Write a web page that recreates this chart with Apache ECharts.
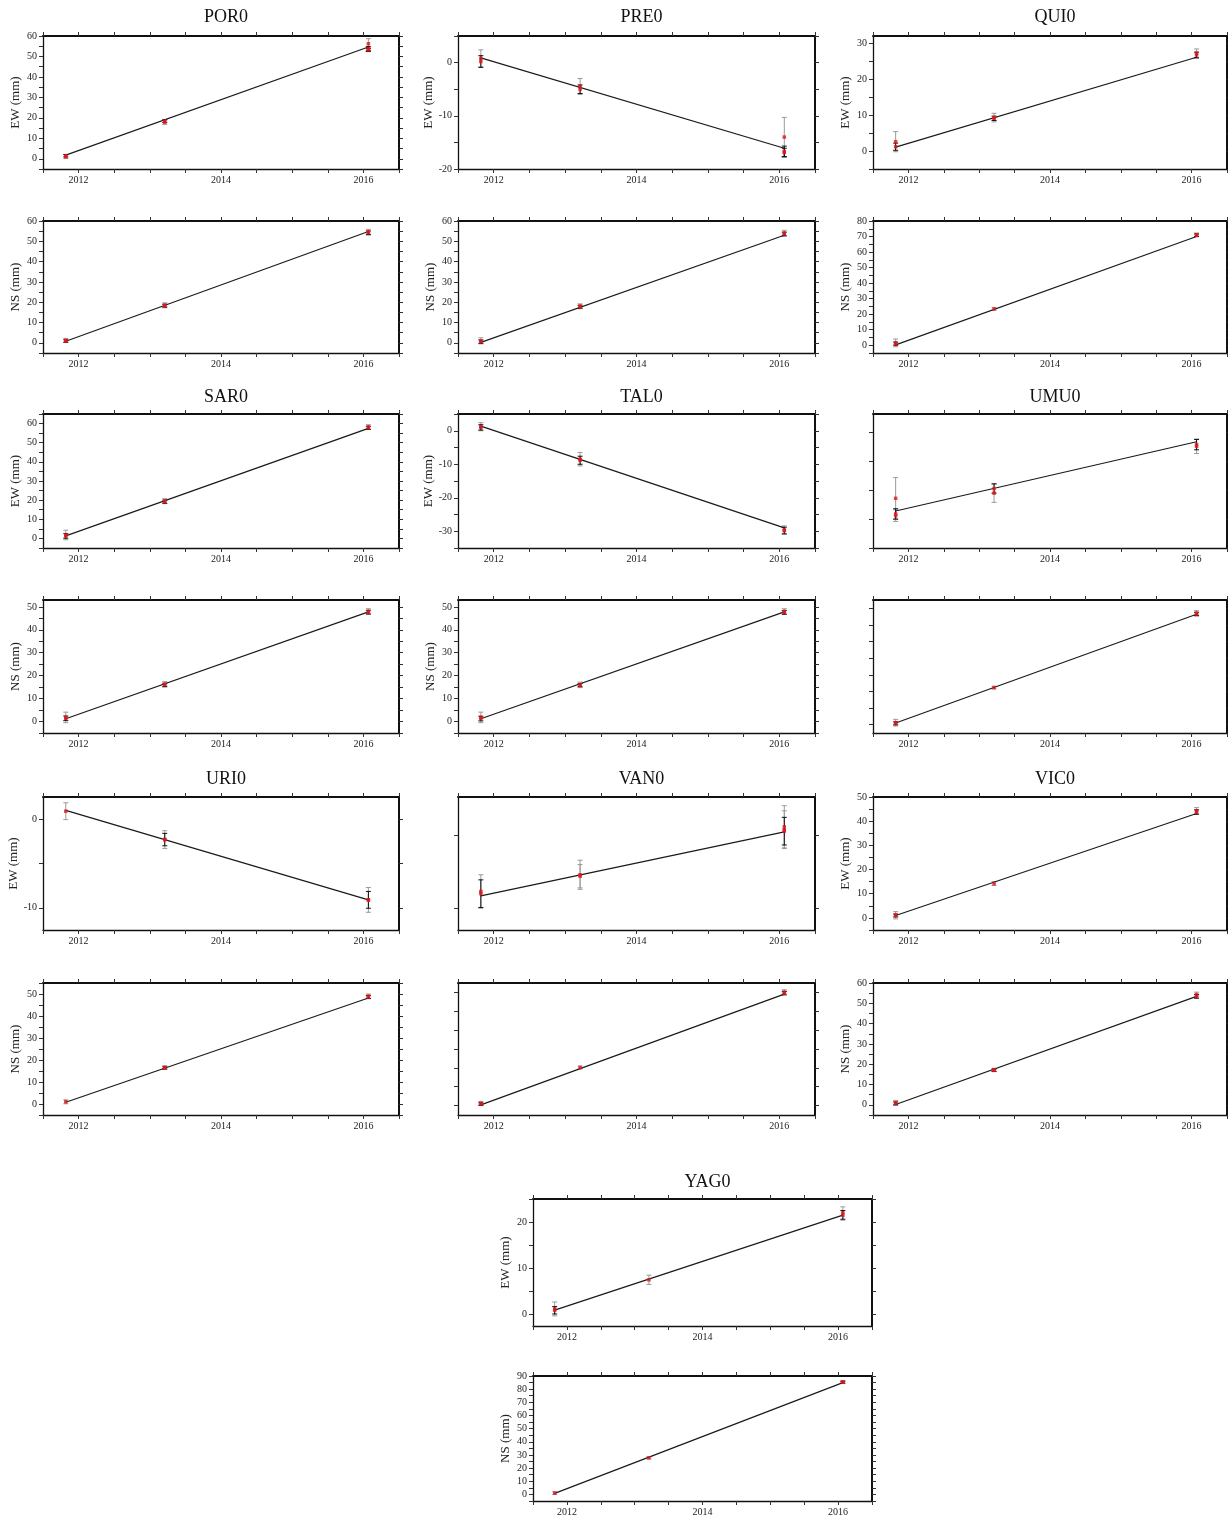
<!DOCTYPE html>
<html>
<head>
<meta charset="utf-8">
<script src="https://cdn.jsdelivr.net/npm/echarts@6/dist/echarts.min.js"></script>
<style>
  html, body { margin: 0; padding: 0; background: #fff; }
  #main { width: 1228px; height: 1517px; }
</style>
</head>
<body>
<div id="main"></div>
<script>
// stations, one EW panel and one NS panel each
const stations = ['POR0', 'PRE0', 'QUI0', 'SAR0', 'TAL0', 'UMU0', 'URI0', 'VAN0', 'VIC0', 'YAG0'];
// campaign epochs (decimal year)
const epochs = [2011.82, 2013.21, 2016.07];
const yearLabels = [2012, 2014, 2016];

// y extent of each panel [min, max] (mm)
const ewRange = [[-5, 60], [-20, 5], [-5, 32], [-5, 65], [-35, 5], [-5, 18.2], [-12.5, 2.5], [-3, 15.3], [-5, 50], [-2.5, 25]];
const nsRange = [[-5, 60], [-5, 60], [-5, 80], [-5, 53], [-5, 53], [-5, 75], [-5, 55], [-5, 65], [-5, 60], [-5, 90]];
// labelled y values (empty = no labels drawn)
const ewLabels = [[0, 10, 20, 30, 40, 50, 60], [-20, -10, 0], [0, 10, 20, 30], [0, 10, 20, 30, 40, 50, 60], [-30, -20, -10, 0], [], [-10, 0], [], [0, 10, 20, 30, 40, 50], [0, 10, 20]];
const nsLabels = [[0, 10, 20, 30, 40, 50, 60], [0, 10, 20, 30, 40, 50, 60], [0, 10, 20, 30, 40, 50, 60, 70, 80], [0, 10, 20, 30, 40, 50], [0, 10, 20, 30, 40, 50], [], [0, 10, 20, 30, 40, 50], [], [0, 10, 20, 30, 40, 50, 60], [0, 10, 20, 30, 40, 50, 60, 70, 80, 90]];
// y tick spacing
const ewTickStep = [5, 5, 5, 5, 5, 5, 5, 10, 5, 5];
const nsTickStep = [5, 5, 5, 5, 5, 10, 5, 10, 5, 5];

// fitted velocity line: value at first and last epoch
const ewFit = [[1.8, 54.6], [0.9, -16.1], [1.1, 26.1], [1.3, 57.5], [1.4, -29.0], [1.4, 13.4], [1.0, -9.1], [1.7, 10.5], [1.0, 43.2], [0.95, 21.5]];
const nsFit = [[0.8, 54.8], [0.2, 53.0], [0.2, 70.0], [1.2, 47.8], [1.2, 47.8], [1.0, 66.4], [0.8, 48.2], [0.35, 59.1], [0.2, 53.4], [0.8, 85.0]];

// observations: [epoch index, value, sigma, bar colour 0 = grey / 1 = black]
const ewObs = [
  [[0, 1.0, 0.9, 0], [0, 1.5, 0.6, 1], [1, 17.9, 1.1, 0], [1, 18.4, 0.7, 1], [2, 56.2, 2.5, 0], [2, 53.8, 1.0, 1], [2, 53.2, 0.8, 1]],
  [[0, 0.8, 1.6, 0], [0, 0.2, 1.1, 1], [1, -4.5, 1.5, 0], [1, -5.0, 0.8, 1], [2, -14.0, 3.7, 0], [2, -16.7, 1.0, 1], [2, -16.9, 0.8, 1]],
  [[0, 2.6, 2.8, 0], [0, 1.2, 1.0, 1], [1, 9.3, 1.2, 0], [1, 9.1, 0.6, 1], [2, 27.2, 1.2, 0], [2, 26.7, 0.8, 1]],
  [[0, 1.8, 2.5, 0], [0, 1.3, 1.2, 1], [1, 19.5, 1.3, 0], [1, 19.2, 0.8, 1], [2, 58.2, 1.2, 0], [2, 57.8, 0.8, 1]],
  [[0, 1.2, 1.2, 0], [0, 1.0, 0.8, 1], [1, -8.5, 2.0, 0], [1, -8.8, 1.2, 1], [2, -29.6, 1.2, 0], [2, -29.8, 1.0, 1]],
  [[0, 3.6, 3.6, 0], [0, 0.9, 0.9, 1], [0, 0.6, 1.0, 0], [1, 4.5, 1.6, 0], [1, 5.3, 0.8, 1], [2, 12.6, 1.25, 0], [2, 12.9, 0.9, 1]],
  [[0, 0.9, 0.95, 0], [1, -2.3, 1.0, 0], [1, -2.3, 0.7, 1], [2, -9.1, 1.4, 0], [2, -9.1, 0.95, 1]],
  [[0, 2.3, 2.3, 0], [0, 2.0, 1.9, 1], [1, 4.6, 2.0, 0], [1, 4.4, 1.6, 0], [2, 11.2, 2.9, 0], [2, 10.8, 2.6, 0], [2, 10.6, 1.9, 1]],
  [[0, 1.1, 1.5, 0], [0, 1.0, 0.6, 1], [1, 14.2, 0.8, 0], [2, 44.2, 1.4, 0], [2, 43.8, 0.9, 1]],
  [[0, 1.2, 1.5, 0], [0, 0.9, 0.8, 1], [1, 7.5, 1.0, 0], [2, 22.0, 1.3, 0], [2, 21.5, 1.0, 1]]
];
const nsObs = [
  [[0, 1.2, 1.0, 0], [0, 0.9, 0.6, 1], [1, 18.5, 1.2, 0], [1, 18.3, 0.7, 1], [2, 54.5, 1.4, 0], [2, 54.2, 0.9, 1]],
  [[0, 1.0, 1.5, 0], [0, 0.6, 0.8, 1], [1, 18.0, 1.2, 0], [1, 17.8, 0.7, 1], [2, 54.0, 1.4, 0], [2, 53.6, 0.9, 1]],
  [[0, 1.5, 2.5, 0], [0, 1.0, 1.0, 1], [1, 23.4, 0.8, 0], [2, 71.1, 1.2, 0], [2, 70.8, 0.8, 1]],
  [[0, 1.8, 2.3, 0], [0, 1.4, 1.0, 1], [1, 16.2, 1.2, 0], [1, 16.0, 0.7, 1], [2, 48.0, 1.2, 0], [2, 47.7, 0.8, 1]],
  [[0, 1.8, 2.3, 0], [0, 1.3, 1.0, 1], [1, 16.0, 1.2, 0], [1, 15.9, 0.7, 1], [2, 48.0, 1.2, 0], [2, 47.6, 0.8, 1]],
  [[0, 1.2, 2.0, 0], [0, 0.8, 0.9, 1], [1, 22.3, 0.8, 0], [2, 67.0, 1.6, 0], [2, 66.6, 1.0, 1]],
  [[0, 1.0, 0.9, 0], [1, 16.6, 0.8, 0], [1, 16.4, 0.5, 1], [2, 49.0, 1.0, 0], [2, 48.6, 0.7, 1]],
  [[0, 1.2, 1.0, 0], [0, 0.8, 0.7, 1], [1, 20.2, 0.8, 0], [2, 60.2, 1.2, 0], [2, 59.6, 0.9, 1]],
  [[0, 1.0, 1.2, 0], [0, 0.7, 0.7, 1], [1, 17.2, 0.8, 0], [1, 17.0, 0.6, 1], [2, 54.3, 1.2, 0], [2, 53.4, 0.9, 1]],
  [[0, 1.0, 1.0, 0], [1, 27.8, 0.8, 0], [2, 85.5, 1.0, 0], [2, 85.2, 0.7, 1]]
];

// layout (px)
const colLeft = [43, 458, 873];
const colWidth = [356, 357, 354];
const ewTop = [36, 414, 797, 1199], ewH = [133, 134, 133, 127];
const nsTop = [221, 600, 983, 1376], nsH = [132, 133, 132, 127];
const titleY = [15, 395, 777, 1180];
const serif = 'Liberation Serif';

let xTickVals = [];
for (let t = 2011.5; t <= 2016.5 + 1e-6; t += 0.5) xTickVals.push(+t.toFixed(1));

function tickVals(range, step) {
  let out = [];
  for (let v = Math.ceil(range[0] / step) * step; v <= range[1] + 1e-6; v += step) out.push(+v.toFixed(2));
  return out;
}

let grids = [], xAxes = [], yAxes = [], series = [], titles = [];

function errBarSeries(g, rows, color) {
  return {
    type: 'custom', xAxisIndex: g * 2, yAxisIndex: g * 2, z: color === '#111' ? 3 : 2,
    data: rows,
    encode: { x: 0, y: [1, 2] },
    renderItem: function (params, api) {
      const x = api.value(0);
      const a = api.coord([x, api.value(2)]);
      const b = api.coord([x, api.value(1)]);
      const w = 2.5;
      const st = { stroke: color, lineWidth: 1 };
      return {
        type: 'group',
        children: [
          { type: 'line', shape: { x1: a[0], y1: a[1], x2: b[0], y2: b[1] }, style: st },
          { type: 'line', shape: { x1: a[0] - w, y1: a[1], x2: a[0] + w, y2: a[1] }, style: st },
          { type: 'line', shape: { x1: b[0] - w, y1: b[1], x2: b[0] + w, y2: b[1] }, style: st }
        ]
      };
    }
  };
}

function addPanel(i, comp, left, top, width, height) {
  const g = grids.length;
  const range = comp === 'EW' ? ewRange[i] : nsRange[i];
  const labels = comp === 'EW' ? ewLabels[i] : nsLabels[i];
  const step = comp === 'EW' ? ewTickStep[i] : nsTickStep[i];
  const fit = comp === 'EW' ? ewFit[i] : nsFit[i];
  const obs = comp === 'EW' ? ewObs[i] : nsObs[i];
  const ticks = tickVals(range, step);
  const showLab = labels.length > 0;

  grids.push({ left: left, top: top, width: width, height: height, containLabel: false });

  const lineThin = { color: '#111', width: 1.3 };
  const lineThick = { color: '#111', width: 2 };
  const tickStyle = { color: '#333', width: 1 };
  const labStyle = { fontFamily: serif, fontSize: 10, color: '#222' };

  xAxes.push({
    type: 'value', gridIndex: g, position: 'bottom', min: 2011.5, max: 2016.5,
    axisLine: { show: true, onZero: false, lineStyle: lineThin },
    axisTick: { show: true, length: 4, customValues: xTickVals, lineStyle: tickStyle },
    axisLabel: Object.assign({ customValues: yearLabels, margin: 6, formatter: v => String(v) }, labStyle),
    splitLine: { show: false }
  });
  xAxes.push({
    type: 'value', gridIndex: g, position: 'top', min: 2011.5, max: 2016.5,
    axisLine: { show: true, onZero: false, lineStyle: lineThick },
    axisTick: { show: true, length: 4, customValues: xTickVals, lineStyle: tickStyle },
    axisLabel: { show: false },
    splitLine: { show: false }
  });
  yAxes.push({
    type: 'value', gridIndex: g, position: 'left', min: range[0], max: range[1],
    name: showLab ? comp + ' (mm)' : '', nameLocation: 'middle', nameRotate: 90, nameGap: 21,
    nameTextStyle: { fontFamily: serif, fontSize: 13, color: '#222' },
    axisLine: { show: true, onZero: false, lineStyle: lineThin },
    axisTick: { show: true, length: 4, customValues: ticks, lineStyle: tickStyle },
    axisLabel: Object.assign({ show: showLab, customValues: labels, margin: 6, formatter: v => String(v) }, labStyle),
    splitLine: { show: false }
  });
  yAxes.push({
    type: 'value', gridIndex: g, position: 'right', min: range[0], max: range[1],
    axisLine: { show: true, onZero: false, lineStyle: lineThick },
    axisTick: { show: true, length: 4, customValues: ticks, lineStyle: tickStyle },
    axisLabel: { show: false },
    splitLine: { show: false }
  });

  const grey = obs.filter(o => o[3] === 0).map(o => [epochs[o[0]], o[1] - o[2], o[1] + o[2]]);
  const black = obs.filter(o => o[3] === 1).map(o => [epochs[o[0]], o[1] - o[2], o[1] + o[2]]);
  series.push(errBarSeries(g, grey, '#9a9a9a'));
  series.push(errBarSeries(g, black, '#111'));
  series.push({
    type: 'line', xAxisIndex: g * 2, yAxisIndex: g * 2, z: 4,
    data: [[epochs[0], fit[0]], [epochs[2], fit[1]]],
    symbol: 'none', lineStyle: { color: '#1a1a1a', width: 1.2 }, silent: true
  });
  series.push({
    type: 'scatter', xAxisIndex: g * 2, yAxisIndex: g * 2, z: 5,
    data: obs.map(o => [epochs[o[0]], o[1]]),
    symbol: 'rect', symbolSize: 3.5, itemStyle: { color: '#e0151b' }, silent: true
  });
}

stations.forEach((name, i) => {
  let row = Math.floor(i / 3), col = i % 3;
  let left = colLeft[col], width = colWidth[col];
  if (i === 9) { left = 533; width = 339; }
  titles.push({
    text: name, left: left + width / 2, top: titleY[row] - 12, textAlign: 'center',
    textStyle: { fontFamily: serif, fontSize: 18, fontWeight: 'normal', color: '#111' }
  });
  addPanel(i, 'EW', left, ewTop[row], width, ewH[row]);
  addPanel(i, 'NS', left, nsTop[row], width, nsH[row]);
});

const chart = echarts.init(document.getElementById('main'));
chart.setOption({
  animation: false,
  backgroundColor: '#fff',
  title: titles,
  grid: grids,
  xAxis: xAxes,
  yAxis: yAxes,
  series: series
});
</script>
</body>
</html>
